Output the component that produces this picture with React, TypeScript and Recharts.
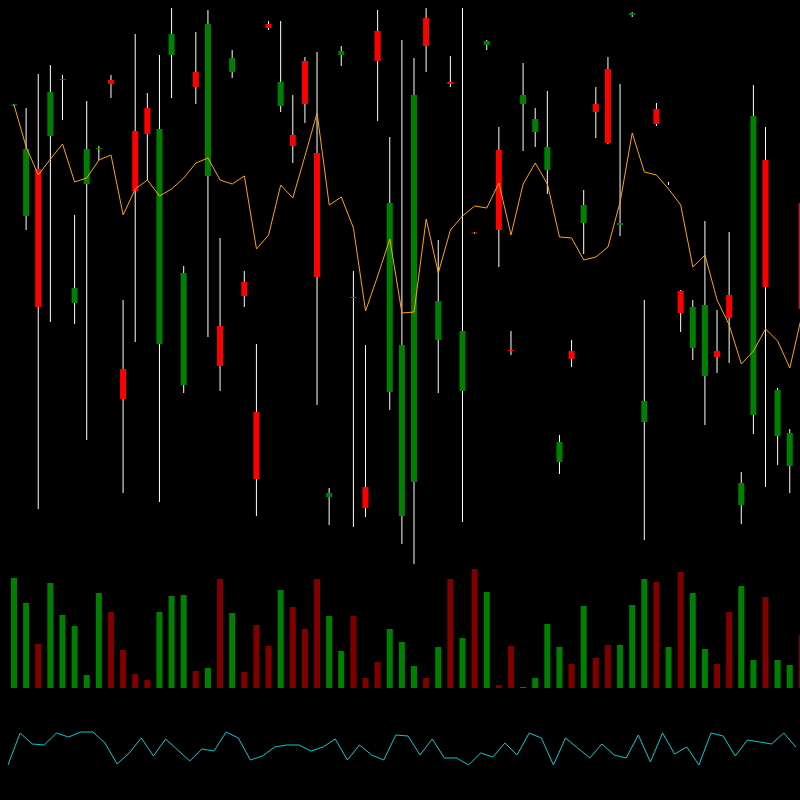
import { ComposedChart, BarChart, LineChart, Bar, Line, XAxis, YAxis, Cell } from 'recharts'

// price panel (arbitrary units, no axis shown)
const opens = [49.45, 38.4, 43.1, 46.4, 52.0, 29.7, 41.6, 45.1, 52.0, 23.1, 46.9, 49.2, 25.6, 54.5, 21.5, 52.8, 42.4, 27.4, 52.8, 31.8, 18.8, 57.6, 49.4, 46.5, 53.9, 44.7, 10.3, 54.5, 30.3, 11.3, 56.9, 20.8, 8.4, 11.8, 58.2, 26.0, 51.8, 20.9, 36.75, 55.5, 45.0, 25.0, 49.6, 46.8, 43.0, 13.8, 24.9, 37.7, 49.6, 53.1, 37.5, 58.5, 17.8, 49.1, 41.7, 30.9, 25.2, 22.4, 24.9, 30.5, 9.5, 18.5, 44.0, 16.4, 13.4, 39.7]
const closes = [49.55, 45.1, 29.3, 50.8, 52.1, 31.2, 45.1, 45.2, 51.6, 20.1, 40.9, 46.6, 47.1, 56.6, 32.7, 51.3, 57.6, 23.4, 54.2, 30.4, 12.1, 57.2, 51.8, 45.4, 49.6, 32.3, 10.7, 54.9, 30.2, 9.2, 53.9, 39.7, 25.5, 50.5, 55.4, 29.9, 51.6, 26.9, 36.65, 55.9, 37.0, 24.9, 50.5, 48.1, 45.3, 15.8, 24.1, 39.5, 48.8, 45.7, 37.7, 58.7, 19.9, 47.6, 41.7, 28.7, 29.3, 29.5, 24.3, 28.2, 11.7, 48.4, 31.3, 21.0, 16.7, 29.1]
const highs = [49.6, 49.2, 52.6, 53.5, 52.5, 38.5, 49.9, 45.4, 52.5, 30.0, 56.6, 50.7, 54.5, 59.2, 33.4, 56.8, 59.0, 36.2, 55.0, 32.9, 25.6, 57.9, 57.9, 50.5, 54.3, 54.8, 11.2, 55.4, 32.9, 25.5, 59.0, 46.3, 56.0, 54.2, 59.2, 36.0, 54.4, 59.2, 36.8, 56.0, 47.3, 26.9, 53.7, 49.2, 50.9, 16.5, 26.0, 41.0, 51.3, 54.3, 51.6, 58.8, 30.0, 49.7, 41.8, 31.0, 30.0, 37.9, 29.0, 36.8, 12.8, 51.5, 47.3, 21.2, 17.1, 39.8]
const lows = [49.4, 37.0, 9.1, 27.8, 48.0, 27.6, 16.0, 44.0, 50.2, 10.7, 25.8, 42.0, 9.8, 50.2, 20.7, 49.6, 26.3, 20.9, 52.2, 29.3, 8.4, 57.0, 48.8, 43.7, 47.7, 19.5, 7.5, 53.4, 7.3, 8.3, 47.9, 19.0, 5.6, 3.6, 52.8, 20.7, 51.3, 7.8, 36.6, 55.0, 33.3, 24.5, 44.9, 45.3, 40.6, 12.6, 23.3, 34.6, 46.2, 45.6, 36.4, 58.3, 6.0, 47.4, 41.5, 26.8, 24.0, 17.5, 22.7, 23.7, 7.6, 16.6, 11.3, 13.5, 10.7, 28.0]
const avg = [49.5, 45.3, 42.5, 44.1, 45.6, 41.8, 42.2, 44.0, 44.5, 38.5, 41.1, 42.0, 40.4, 41.1, 42.2, 43.7, 44.2, 42.0, 41.6, 42.4, 35.1, 36.5, 41.5, 40.2, 44.4, 48.7, 39.5, 40.3, 37.2, 28.9, 32.4, 36.1, 28.7, 28.8, 38.1, 32.7, 37.0, 38.4, 39.4, 39.2, 41.7, 36.5, 41.6, 43.7, 41.6, 36.3, 36.2, 34.0, 34.3, 35.3, 39.8, 46.7, 42.8, 42.5, 41.1, 39.5, 33.3, 34.5, 30.0, 27.5, 23.6, 24.9, 27.1, 25.9, 23.2, 28.5]

// volume panel
const volumes = [110, 85, 44, 105, 73, 62, 13, 95, 76, 38, 14, 8, 76, 92, 93, 17, 20, 109, 75, 16, 63, 42, 98, 81, 59, 109, 72, 37, 72, 10, 26, 59, 46, 22, 10, 41, 109, 50, 119, 96, 3, 42, 1, 10, 64, 41, 24, 82, 30, 43, 43, 83, 109, 106, 41, 116, 95, 39, 24, 76, 102, 28, 91, 28, 23, 53]

// oscillator panel
const osc = [15, 47, 36, 35, 47, 43, 48, 48, 37, 16, 27, 42, 24, 41, 30, 19, 31, 29, 48, 42, 20, 24, 33, 35, 35, 29, 33, 41, 20, 35, 25, 20, 45, 44, 25, 41, 22, 22, 15, 27, 23, 37, 25, 47, 42, 15, 42, 32, 22, 36, 25, 22, 45, 18, 47, 26, 33, 15, 47, 44, 24, 40, 38, 36, 47, 33]

const days = opens.map((_, i) => `d${i + 1}`)

const rows = days.map((day, i) => ({
  day,
  open: opens[i],
  close: closes[i],
  high: highs[i],
  low: lows[i],
  avg: avg[i],
  vol: volumes[i],
  osc: osc[i],
  up: closes[i] >= opens[i],
}))

const GREEN = '#008000'
const RED = '#ff0000'
const noMargin = { top: 0, right: 0, bottom: 0, left: 0 }
const W = 800
// LineChart uses a point scale: first point at the left edge, so keep the spacing of the bands
const oscW = (W * (days.length - 1)) / days.length

function Candle(props: any) {
  const { x, y, width, height, payload } = props
  const { open, close, high, low } = payload
  const top = Math.min(y, y + height)
  const h = Math.abs(height)
  const px = (v: number) => top + ((high - v) / (high - low)) * h
  const cx = x + width / 2
  const yb = px(Math.max(open, close))
  const ye = px(Math.min(open, close))
  return (
    <g>
      <line x1={cx} x2={cx} y1={top} y2={top + h} stroke="#ffffff" strokeWidth={1} />
      {open !== close && (
        <rect x={x} y={yb} width={width} height={Math.max(1, ye - yb)} fill={payload.up ? GREEN : RED} />
      )}
    </g>
  )
}

export default function App() {
  return (
    <div style={{ position: 'fixed', left: 0, top: 0, width: 800, height: 800, background: '#000', overflow: 'hidden' }}>
      <div style={{ position: 'absolute', left: 8, top: 0 }}>
        <ComposedChart width={W} height={600} data={rows} margin={noMargin}>
          <XAxis dataKey="day" hide />
          <YAxis hide domain={[0, 60]} />
          <Bar dataKey={(d: any) => [d.low, d.high]} barSize={6} shape={<Candle />} isAnimationActive={false} />
          <Line type="linear" dataKey="avg" stroke="#ffa500" strokeWidth={1} dot={false} isAnimationActive={false} />
        </ComposedChart>
      </div>
      <div style={{ position: 'absolute', left: 8, top: 560 }}>
        <BarChart width={W} height={128} data={rows} margin={noMargin}>
          <XAxis dataKey="day" hide />
          <YAxis hide domain={[0, 128]} />
          <Bar dataKey="vol" barSize={6} isAnimationActive={false}>
            {rows.map(r => <Cell key={r.day} fill={r.up ? GREEN : '#800000'} />)}
          </Bar>
        </BarChart>
      </div>
      <div style={{ position: 'absolute', left: 8, top: 700 }}>
        <LineChart width={oscW} height={80} data={rows} margin={noMargin}>
          <XAxis dataKey="day" hide />
          <YAxis hide domain={[0, 80]} />
          <Line type="linear" dataKey="osc" stroke="#00ced1" strokeWidth={1} dot={false} isAnimationActive={false} />
        </LineChart>
      </div>
    </div>
  )
}
